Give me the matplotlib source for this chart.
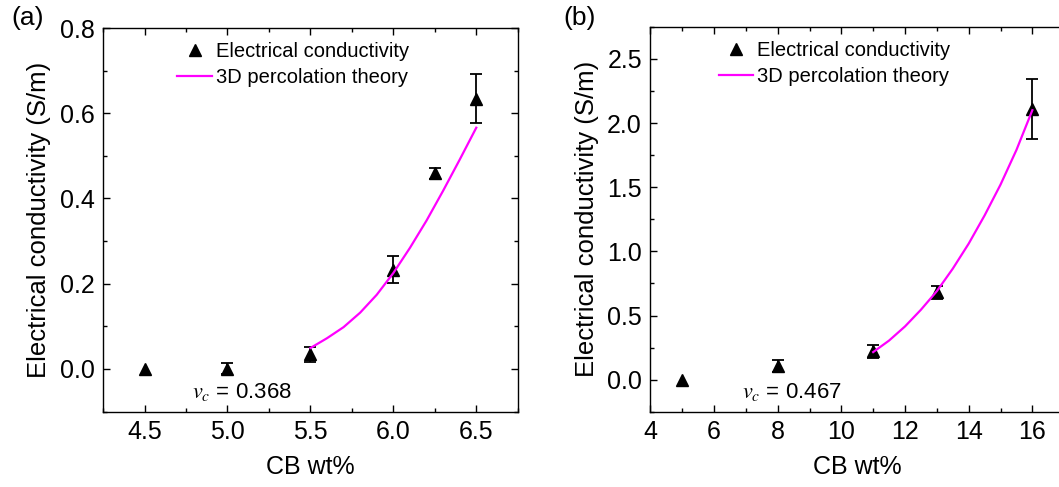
import matplotlib
matplotlib.use("Agg")
import matplotlib.pyplot as plt
from matplotlib.ticker import MultipleLocator

plt.rcParams['font.family'] = ['Liberation Sans', 'DejaVu Sans']
plt.rcParams['mathtext.fontset'] = 'stix'

# Panel (a) data
a_x = [4.5, 5.0, 5.5, 6.0, 6.25, 6.5]
a_y = [0.0, 0.0, 0.034, 0.233, 0.459, 0.634]
a_err = [0.0, 0.013, 0.017, 0.032, 0.013, 0.058]
a_fit_x = [5.5, 5.6, 5.7, 5.8, 5.9, 6.0, 6.1, 6.2, 6.3, 6.4, 6.5]
a_fit_y = [0.049, 0.072, 0.098, 0.132, 0.174, 0.225, 0.284, 0.348, 0.418, 0.491, 0.566]

# Panel (b) data
b_x = [5, 8, 11, 13, 16]
b_y = [0.0, 0.104, 0.222, 0.680, 2.110]
b_err = [0.0, 0.048, 0.05, 0.05, 0.233]
b_fit_x = [11, 11.5, 12, 12.5, 13, 13.5, 14, 14.5, 15, 15.5, 16]
b_fit_y = [0.215, 0.305, 0.415, 0.545, 0.69, 0.865, 1.06, 1.28, 1.52, 1.79, 2.10]

xlabel = "CB wt%"
ylabel = "Electrical conductivity (S/m)"
leg_points = "Electrical conductivity"
leg_line = "3D percolation theory"

fig = plt.figure(figsize=(10.59, 4.87), dpi=100)
ax1 = fig.add_axes([0.0973, 0.155, 0.3916, 0.7875])
ax2 = fig.add_axes([0.6141, 0.1545, 0.3908, 0.7905])

def style(ax, right=True):
    for s in ax.spines.values():
        s.set_linewidth(1.0)
    ax.tick_params(which='both', direction='in', top=True, right=right,
                   labelsize=18, pad=6, width=1.0)
    ax.tick_params(which='major', length=5)
    ax.tick_params(which='minor', length=3)

def draw(ax, x, y, err, fx, fy):
    ex = [xi for xi, e in zip(x, err) if e > 0]
    ey = [yi for yi, e in zip(y, err) if e > 0]
    ee = [e for e in err if e > 0]
    ax.errorbar(ex, ey, yerr=ee, fmt='none', ecolor='black', elinewidth=1.3,
                capsize=4.5, capthick=1.3, zorder=2)
    ax.plot(x, y, linestyle='none', marker='^', color='black', markersize=9,
            label=leg_points, zorder=3)
    ax.plot(fx, fy, color='#FF00FF', linewidth=1.6, label=leg_line, zorder=4)

leg_kw = dict(loc='upper left', frameon=False, fontsize=14.5, handlelength=1.7,
              handletextpad=0.2, labelspacing=0.35, borderaxespad=0)

draw(ax1, a_x, a_y, a_err, a_fit_x, a_fit_y)
ax1.set_xlim(4.25, 6.75)
ax1.set_ylim(-0.1, 0.8)
ax1.xaxis.set_minor_locator(MultipleLocator(0.25))
ax1.yaxis.set_minor_locator(MultipleLocator(0.1))
ax1.set_xticks([4.5, 5.0, 5.5, 6.0, 6.5])
ax1.set_xticklabels(["4.5", "5.0", "5.5", "6.0", "6.5"])
ax1.set_yticks([0.0, 0.2, 0.4, 0.6, 0.8])
ax1.set_yticklabels(["0.0", "0.2", "0.4", "0.6", "0.8"])
style(ax1)
ax1.set_xlabel(xlabel, fontsize=18, labelpad=8)
ax1.set_ylabel(ylabel, fontsize=18.5, labelpad=6)
ax1.text(4.785, -0.068, r"$v_c$ = 0.368", fontsize=16, va='baseline', ha='left')
ax1.legend(bbox_to_anchor=(0.16, 0.985), **leg_kw)
fig.text(0.011, 0.988, "(a)", fontsize=19, va='top', ha='left')

draw(ax2, b_x, b_y, b_err, b_fit_x, b_fit_y)
ax2.set_xlim(4, 17)
ax2.set_ylim(-0.25, 2.75)
ax2.set_xticks([4, 6, 8, 10, 12, 14, 16])
ax2.xaxis.set_minor_locator(MultipleLocator(1))
ax2.set_yticks([0.0, 0.5, 1.0, 1.5, 2.0, 2.5])
ax2.set_yticklabels(["0.0", "0.5", "1.0", "1.5", "2.0", "2.5"])
ax2.yaxis.set_minor_locator(MultipleLocator(0.25))
style(ax2, right=False)
ax2.set_xlabel(xlabel, fontsize=18, labelpad=8)
ax2.set_ylabel(ylabel, fontsize=18.5, labelpad=6)
ax2.text(6.87, -0.142, r"$v_c$ = 0.467", fontsize=16, va='baseline', ha='left')
ax2.legend(bbox_to_anchor=(0.147, 0.985), **leg_kw)
fig.text(0.532, 0.988, "(b)", fontsize=19, va='top', ha='left')

fig.savefig("out.png", dpi=100)
